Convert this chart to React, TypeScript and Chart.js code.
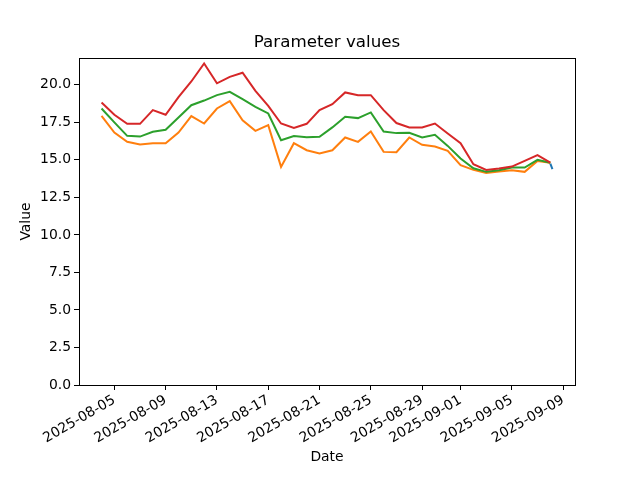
import React, { useEffect, useRef } from "react";
import { Chart, registerables } from "chart.js";

Chart.register(...registerables);

const dates = [
  "2025-08-04", "2025-08-05", "2025-08-06", "2025-08-07", "2025-08-08", "2025-08-09",
  "2025-08-10", "2025-08-11", "2025-08-12", "2025-08-13", "2025-08-14", "2025-08-15",
  "2025-08-16", "2025-08-17", "2025-08-18", "2025-08-19", "2025-08-20", "2025-08-21",
  "2025-08-22", "2025-08-23", "2025-08-24", "2025-08-25", "2025-08-26", "2025-08-27",
  "2025-08-28", "2025-08-29", "2025-08-30", "2025-08-31", "2025-09-01", "2025-09-02",
  "2025-09-03", "2025-09-04", "2025-09-05", "2025-09-06", "2025-09-07", "2025-09-08",
];

const redValues = [
  18.82, 18.0, 17.4, 17.4, 18.31, 18.0, 19.18, 20.22, 21.42, 20.1, 20.53, 20.8,
  19.6, 18.6, 17.42, 17.12, 17.4, 18.31, 18.71, 19.49, 19.31, 19.31, 18.31, 17.45,
  17.16, 17.16, 17.42, 16.76, 16.11, 14.71, 14.33, 14.43, 14.55, 14.93, 15.31, 14.82,
];

const greenValues = [
  18.42, 17.5, 16.6, 16.55, 16.87, 17.0, 17.82, 18.64, 18.95, 19.31, 19.53, 19.04,
  18.53, 18.09, 16.31, 16.58, 16.5, 16.53, 17.16, 17.87, 17.78, 18.16, 16.89, 16.78,
  16.8, 16.49, 16.67, 15.93, 15.09, 14.44, 14.2, 14.3, 14.49, 14.49, 15.0, 14.8,
];

const orangeValues = [
  17.93, 16.82, 16.2, 16.02, 16.1, 16.1, 16.82, 17.91, 17.42, 18.42, 18.91, 17.64,
  16.93, 17.31, 14.53, 16.11, 15.64, 15.42, 15.64, 16.49, 16.2, 16.89, 15.53, 15.51,
  16.49, 16.0, 15.89, 15.6, 14.64, 14.33, 14.13, 14.22, 14.31, 14.2, 14.93, 14.8,
];

const blueTimes = ["2025-09-08T00:00", "2025-09-08T04:00"];
const blueValues = [14.75, 14.38];

const xTickLabels = [
  "2025-08-05", "2025-08-09", "2025-08-13", "2025-08-17", "2025-08-21",
  "2025-08-25", "2025-08-29", "2025-09-01", "2025-09-05", "2025-09-09",
];
const yTickValues = [0, 2.5, 5, 7.5, 10, 12.5, 15, 17.5, 20];
const titleText = "Parameter values";

const DAY = 86400000;
const toMs = (s: string) => Date.parse(s.length === 10 ? s + "T00:00:00Z" : s + ":00Z");
const T0 = toMs(dates[0]);
const toDay = (s: string) => (toMs(s) - T0) / DAY;
const dayLabel = (d: number) => new Date(T0 + Math.round(d * DAY)).toISOString().slice(0, 10);

const FONT = "'DejaVu Sans', sans-serif";

const spines = {
  id: "spines",
  afterDraw(chart: any) {
    const { ctx, chartArea: a } = chart;
    ctx.save();
    ctx.strokeStyle = "#000";
    ctx.lineWidth = 1;
    ctx.strokeRect(Math.round(a.left) + 0.5, Math.round(a.top) + 0.5, Math.round(a.right - a.left), Math.round(a.bottom - a.top));
    ctx.fillStyle = "#000";
    ctx.font = `16.7px ${FONT}`;
    ctx.textAlign = "center";
    ctx.textBaseline = "middle";
    ctx.fillText(titleText, (a.left + a.right) / 2, 43);
    ctx.restore();
  },
};

export default function App() {
  const ref = useRef<HTMLCanvasElement | null>(null);

  useEffect(() => {
    if (!ref.current) return;
    const allX = [...dates.map(toDay), ...blueTimes.map(toDay)];
    const xMin0 = Math.min(...allX);
    const xMax0 = Math.max(...allX);
    const xm = (xMax0 - xMin0) * 0.05;
    const allY = [...redValues, ...greenValues, ...orangeValues, ...blueValues];
    const yMax = Math.max(...allY) + (Math.max(...allY) - Math.min(...allY)) * 0.05;

    const mk = (xs: string[], ys: number[]) => xs.map((d, i) => ({ x: toDay(d), y: ys[i] }));

    const chart = new Chart(ref.current, {
      type: "line",
      data: {
        datasets: [
          { label: "red", data: mk(dates, redValues), borderColor: "#d62728" },
          { label: "green", data: mk(dates, greenValues), borderColor: "#2ca02c" },
          { label: "orange", data: mk(dates, orangeValues), borderColor: "#ff7f0e" },
          { label: "blue", data: mk(blueTimes, blueValues), borderColor: "#1f77b4" },
        ].map((d) => ({ ...d, borderWidth: 2, pointRadius: 0, fill: false, tension: 0 })),
      },
      options: {
        animation: false,
        responsive: false,
        devicePixelRatio: 1,
        layout: { padding: { left: 0, right: 65, top: 58, bottom: 0 } },
        plugins: {
          legend: { display: false },
          tooltip: { enabled: false },
          title: { display: false },
        },
        scales: {
          x: {
            type: "linear",
            min: xMin0 - xm,
            max: xMax0 + xm,
            grid: { display: true, drawOnChartArea: false, drawTicks: true, tickLength: 5, color: "#000" },
            border: { display: false },
            ticks: {
              autoSkip: false,
              minRotation: 30,
              maxRotation: 30,
              padding: 2,
              color: "#000",
              font: { family: FONT, size: 13.9 },
              callback: (v: any) => dayLabel(Number(v)),
            },
            afterBuildTicks: (s: any) => {
              s.ticks = xTickLabels.map((t) => ({ value: toDay(t) }));
            },
            afterFit: (s: any) => {
              s.height = 95;
              s.paddingLeft = 0;
              s.paddingRight = 0;
            },
            title: {
              display: true,
              text: "Date",
              color: "#000",
              font: { family: FONT, size: 13.9, lineHeight: 1.2 },
              padding: { top: 0, bottom: 14 },
            },
          },
          y: {
            type: "linear",
            min: 0,
            max: yMax,
            grid: { display: true, drawOnChartArea: false, drawTicks: true, tickLength: 5, color: "#000" },
            border: { display: false },
            ticks: {
              padding: 3,
              color: "#000",
              font: { family: FONT, size: 13.9 },
              callback: (v: any) => Number(v).toFixed(1),
            },
            afterBuildTicks: (s: any) => {
              s.ticks = yTickValues.map((v) => ({ value: v }));
            },
            afterFit: (s: any) => {
              s.width = 79;
              s.paddingTop = 0;
              s.paddingBottom = 0;
            },
            title: {
              display: true,
              text: "Value",
              color: "#000",
              font: { family: FONT, size: 13.9, lineHeight: 1.2 },
              padding: { top: 18, bottom: 0 },
            },
          },
        },
      },
      plugins: [spines],
    });
    return () => chart.destroy();
  }, []);

  return (
    <div style={{ position: "fixed", left: 0, top: 0, width: 640, height: 480, background: "#fff" }}>
      <canvas ref={ref} width={640} height={480} style={{ width: 640, height: 480 }} />
    </div>
  );
}
